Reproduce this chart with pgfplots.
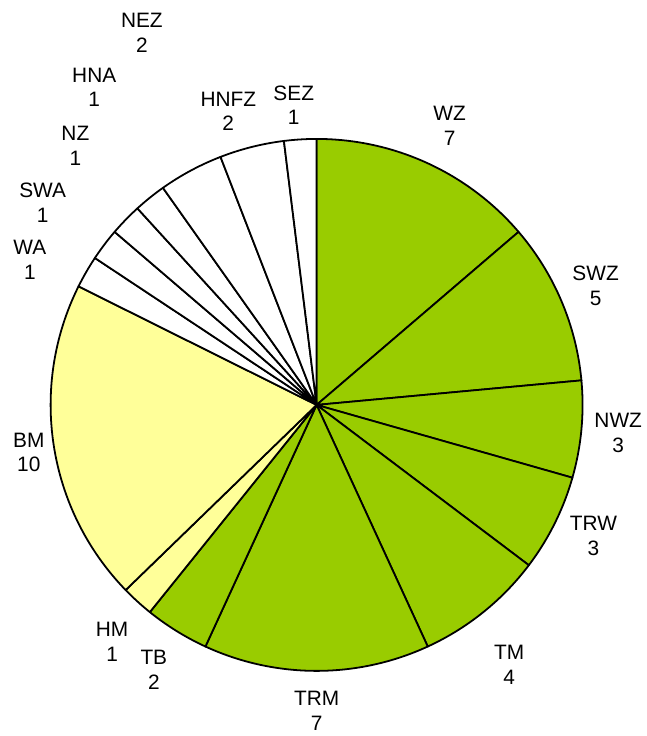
\documentclass[border=0pt]{standalone}
\usepackage{fontspec}
\setmainfont{Liberation Sans}
\usepackage{pgfplots}
\usepackage{pgfplotstable}
\pgfplotsset{compat=1.18}
\definecolor{pg}{HTML}{99CC00}
\definecolor{py}{HTML}{FFFF99}
\definecolor{pw}{HTML}{FFFFFF}

\pgfplotstableread{
name value lx ly col
WZ 7 0.500 1.049 pg
SWZ 5 1.049 0.448 pg
NWZ 3 1.134 -0.104 pg
TRW 3 1.041 -0.493 pg
TM 4 0.724 -0.978 pg
TRM 7 0.000 -1.150 pg
TB 2 -0.612 -0.996 pg
HM 1 -0.769 -0.892 py
BM 10 -1.082 -0.179 py
WA 1 -1.078 0.545 pw
SWA 1 -1.030 0.761 pw
NZ 1 -0.907 0.974 pw
HNA 1 -0.836 1.194 pw
NEZ 2 -0.657 1.399 pw
HNFZ 2 -0.332 1.104 pw
SEZ 1 -0.086 1.127 pw
}\pie

\pgfplotstablegetrowsof{\pie}
\pgfmathtruncatemacro\nlast{\pgfplotsretval-1}
\def\total{0}
\pgfplotsforeachungrouped \i in {0,...,\nlast}{%
  \pgfplotstablegetelem{\i}{value}\of\pie
  \pgfmathsetmacro\tmp{\total+\pgfplotsretval}%
  \global\let\total\tmp
}
\def\acc{90}
\pgfplotsforeachungrouped \i in {0,...,\nlast}{%
  \pgfplotstablegetelem{\i}{value}\of\pie \let\v\pgfplotsretval
  \pgfmathsetmacro\e{\acc-\v*360/\total}%
  \expandafter\xdef\csname pS\i\endcsname{\acc}%
  \expandafter\xdef\csname pE\i\endcsname{\e}%
  \global\let\acc\e
  \pgfplotstablegetelem{\i}{name}\of\pie
  \expandafter\xdef\csname pN\i\endcsname{\pgfplotsretval}%
  \expandafter\xdef\csname pV\i\endcsname{\v}%
  \pgfplotstablegetelem{\i}{lx}\of\pie
  \expandafter\xdef\csname pX\i\endcsname{\pgfplotsretval}%
  \pgfplotstablegetelem{\i}{ly}\of\pie
  \expandafter\xdef\csname pY\i\endcsname{\pgfplotsretval}%
  \pgfplotstablegetelem{\i}{col}\of\pie
  \expandafter\xdef\csname pC\i\endcsname{\pgfplotsretval}%
}

\begin{document}
\begin{tikzpicture}
\begin{axis}[
  scale only axis, width=325.5pt, height=370.8pt,
  xmin=-1.19030, xmax=1.23881, ymin=-1.24478, ymax=1.52239,
  hide axis, clip=false,
]
\path (rel axis cs:0,0) rectangle (rel axis cs:1,1);
\pgfplotsinvokeforeach{0,...,15}{
  \filldraw[fill=\csname pC#1\endcsname, draw=black, line width=0.9pt, line join=round]
    (axis cs:0,0) -- (axis cs:{cos(\csname pS#1\endcsname)},{sin(\csname pS#1\endcsname)})
    arc[start angle=\csname pS#1\endcsname, end angle=\csname pE#1\endcsname, radius=134pt] -- cycle;
  \node[align=center, font=\fontsize{10.5}{12.5}\selectfont, inner sep=0pt]
    at (axis cs:\csname pX#1\endcsname,\csname pY#1\endcsname)
    {\csname pN#1\endcsname\\\csname pV#1\endcsname};
}
\end{axis}
\end{tikzpicture}
\end{document}
